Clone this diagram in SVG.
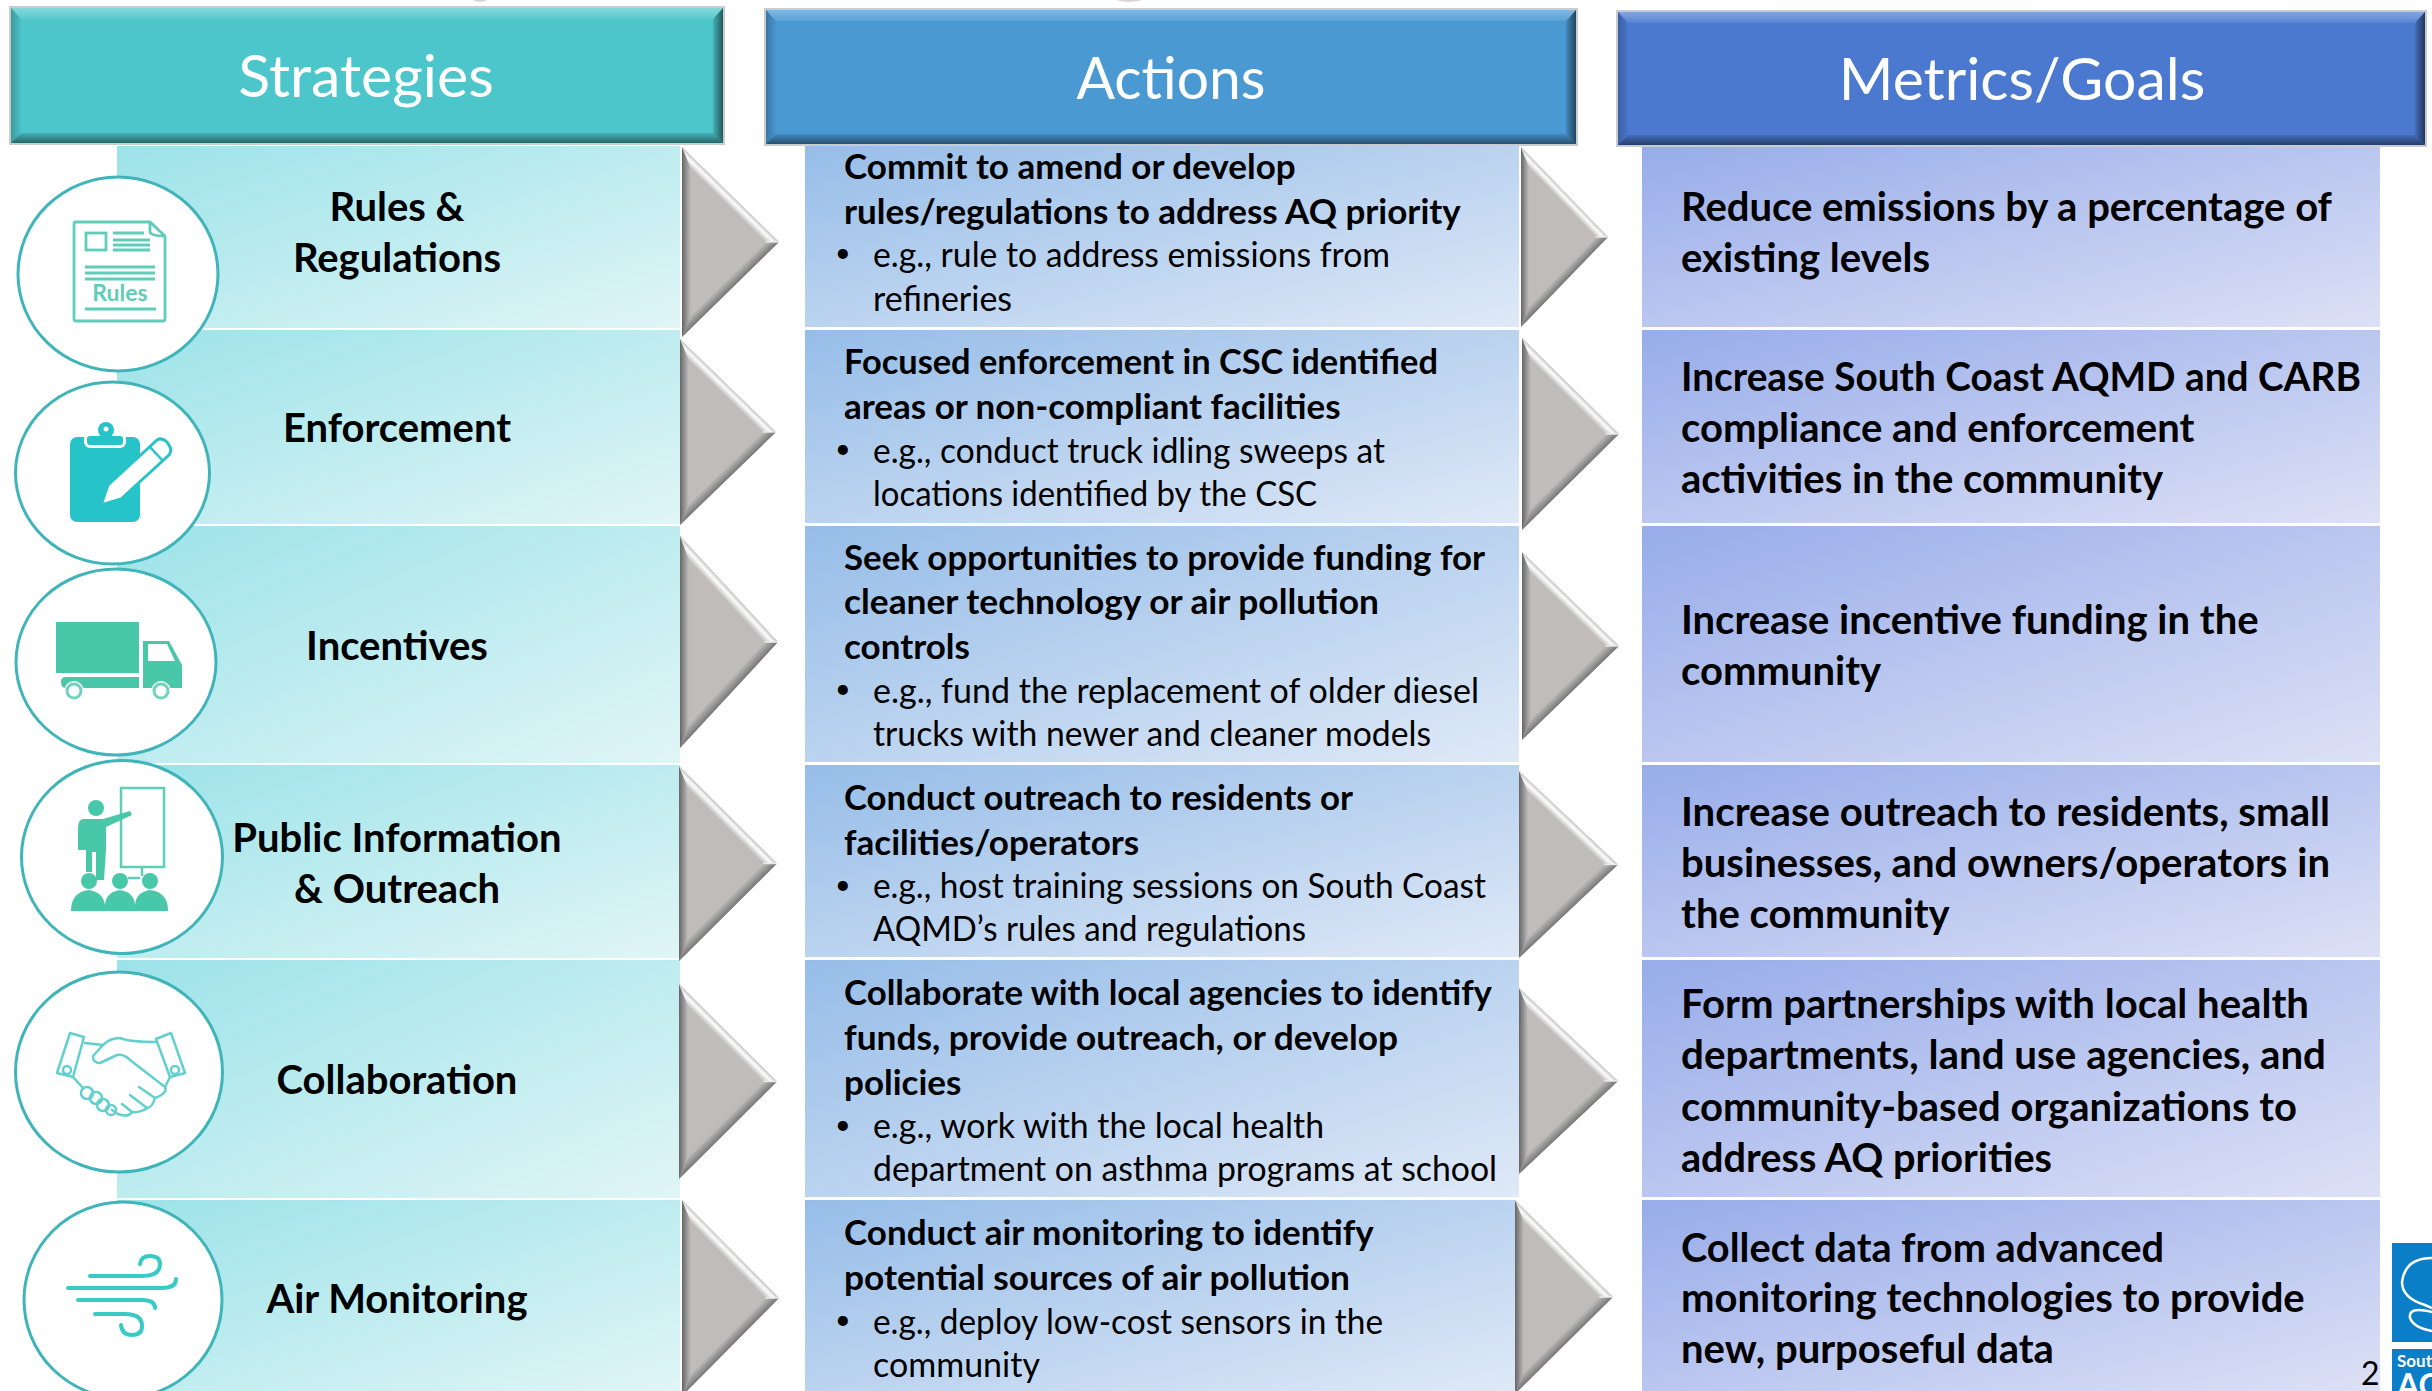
<svg xmlns="http://www.w3.org/2000/svg" width="2432" height="1391" viewBox="0 0 2432 1391">
<defs>
<linearGradient id="gs" x1="0" y1="0" x2="1" y2="1"><stop offset="0" stop-color="#9ce3e9"/><stop offset="1" stop-color="#e0f5f6"/></linearGradient>
<linearGradient id="ga" x1="0" y1="0" x2="1" y2="1"><stop offset="0" stop-color="#96bde8"/><stop offset="1" stop-color="#dfe9f7"/></linearGradient>
<linearGradient id="gm" x1="0" y1="0" x2="1" y2="1"><stop offset="0" stop-color="#97ace9"/><stop offset="1" stop-color="#dde1f6"/></linearGradient>
<linearGradient id="al" gradientUnits="userSpaceOnUse" x1="0" y1="100" x2="9" y2="100"><stop offset="0" stop-color="#666"/><stop offset="1" stop-color="#bfbcbb"/></linearGradient>
<linearGradient id="at" gradientUnits="userSpaceOnUse" x1="50" y1="50" x2="43" y2="57"><stop offset="0" stop-color="#c8c8c8"/><stop offset=".4" stop-color="#fdfdfd"/><stop offset="1" stop-color="#bfbcbb"/></linearGradient>
<linearGradient id="ab" gradientUnits="userSpaceOnUse" x1="50" y1="150" x2="43" y2="143"><stop offset="0" stop-color="#777"/><stop offset="1" stop-color="#bfbcbb"/></linearGradient>
<linearGradient id="bt" x1="0" y1="0" x2="0" y2="1"><stop offset="0" stop-color="#fff" stop-opacity=".32"/><stop offset="1" stop-color="#fff" stop-opacity=".08"/></linearGradient>
<linearGradient id="bb" x1="0" y1="0" x2="0" y2="1"><stop offset="0" stop-color="#000" stop-opacity=".1"/><stop offset="1" stop-color="#000" stop-opacity=".48"/></linearGradient>
<linearGradient id="bl" x1="0" y1="0" x2="1" y2="0"><stop offset="0" stop-color="#000" stop-opacity=".22"/><stop offset="1" stop-color="#000" stop-opacity=".02"/></linearGradient>
<linearGradient id="br" x1="0" y1="0" x2="1" y2="0"><stop offset="0" stop-color="#000" stop-opacity=".1"/><stop offset="1" stop-color="#000" stop-opacity=".55"/></linearGradient>
<g id="arrow">
<polygon points="0,0 100,100 0,200" fill="#bfbcbb"/>
<polygon points="0,0 9,22 9,178 0,200" fill="url(#al)"/>
<polygon points="0,0 100,100 86,100 9,22" fill="url(#at)"/>
<polygon points="100,100 0,200 9,178 86,100" fill="url(#ab)"/>
<polyline points="86,100 100,100" fill="none" stroke="#ececec" stroke-width="1.5"/>
</g>
</defs>
<style>
text{font-family:"Lato","Carlito","Liberation Sans",sans-serif}
.h{font-size:59px;fill:#fff;text-anchor:middle}
.s{font-size:40px;font-weight:700;fill:#000;text-anchor:middle}
.b{font-size:35px;font-weight:700;fill:#000}
.n{font-size:34px;fill:#000}
.d{font-size:27px;fill:#000}
.m{font-size:40px;font-weight:700;fill:#000}
.c{fill:#fff;stroke:#3fb5ba;stroke-width:3}
.bs{fill:url(#gs)}.ba{fill:url(#ga)}.bm{fill:url(#gm)}
.i{fill:#26c4c9}.il{fill:none;stroke:#62d0cf;stroke-width:2.5;stroke-linecap:round;stroke-linejoin:round}
.g{fill:#48c7a9}
.frame{fill:#c9cccc}
</style>
<rect width="2432" height="1391" fill="#fff"/>
<ellipse cx="480" cy="-3" rx="9" ry="5" fill="#d5d5d5"/>
<ellipse cx="1129" cy="-3" rx="16" ry="5" fill="#d5d5d5"/>

<g id="header-strategies">
<rect class="frame" x="9" y="6" width="716" height="139"/>
<rect x="11" y="8" width="712" height="135" fill="#4cc5cb"/>
<polygon points="11,8 723,8 713,19 21,19" fill="url(#bt)"/>
<polygon points="11,143 723,143 713,133 21,133" fill="url(#bb)"/>
<polygon points="11,8 21,19 21,133 11,143" fill="url(#bl)"/>
<polygon points="723,8 713,19 713,133 723,143" fill="url(#br)"/>
<text class="h" x="366" y="97">Strategies</text>
</g>
<g id="header-actions">
<rect class="frame" x="764" y="8" width="814" height="138"/>
<rect x="766" y="10" width="810" height="134" fill="#4b99d2"/>
<polygon points="766,10 1576,10 1566,21 776,21" fill="url(#bt)"/>
<polygon points="766,144 1576,144 1566,134 776,134" fill="url(#bb)"/>
<polygon points="766,10 776,21 776,134 766,144" fill="url(#bl)"/>
<polygon points="1576,10 1566,21 1566,134 1576,144" fill="url(#br)"/>
<text class="h" x="1171" y="99" textLength="189" lengthAdjust="spacingAndGlyphs">Actions</text>
</g>
<g id="header-metrics">
<rect class="frame" x="1616" y="10" width="811" height="137"/>
<rect x="1618" y="12" width="807" height="133" fill="#4b79cf"/>
<polygon points="1618,12 2425,12 2415,23 1628,23" fill="url(#bt)"/>
<polygon points="1618,145 2425,145 2415,135 1628,135" fill="url(#bb)"/>
<polygon points="1618,12 1628,23 1628,135 1618,145" fill="url(#bl)"/>
<polygon points="2425,12 2415,23 2415,135 2425,145" fill="url(#br)"/>
<text class="h" x="2022" y="100">Metrics/Goals</text>
</g>

<g id="strategy-monitoring">
<rect class="bs" x="117" y="1200" width="563" height="191"/>
<ellipse class="c" cx="123" cy="1300" rx="99" ry="98"/>
<g fill="none" stroke="#38cbc6" stroke-width="4" stroke-linecap="round">
<path d="M90 1276H142Q160 1276 160 1264Q160 1256 150 1256Q141 1256 140 1264"/>
<path d="M68 1288H162Q176 1288 176 1279"/>
<path d="M78 1300H142Q155 1300 155 1308"/>
<path d="M95 1314H125Q142 1314 142 1326Q142 1335 132 1335Q122 1335 121 1325"/>
</g>
<text class="s" x="397" y="1313">Air Monitoring</text>
</g>
<g id="strategy-collaboration">
<rect class="bs" x="117" y="960" width="563" height="238"/>
<ellipse class="c" cx="119" cy="1072" rx="103.5" ry="100"/>
<g class="il">
<path d="M70 1033L84 1037L73 1077L57 1073Z"/><circle cx="67" cy="1070" r="4"/>
<path d="M156 1039L171 1033L185 1073L170 1077Z"/><circle cx="175" cy="1070" r="4"/>
<path d="M85 1043L103 1045Q110 1038 120 1038Q130 1042 155 1042"/>
<path d="M103 1045L93 1056Q93 1063 100 1063L117 1055Q124 1054 130 1060L165 1087Q168 1093 155 1098Q152 1108 147 1108Q140 1113 132 1112Q128 1118 118 1114L112 1110"/>
<path d="M170 1077L165 1087M73 1077L83 1088"/>
<path d="M139 1087L155 1098M130 1095L147 1108M122 1104L132 1112"/>
<circle cx="87" cy="1093" r="6"/><circle cx="96" cy="1098" r="6"/><circle cx="103" cy="1105" r="6"/><circle cx="111" cy="1110" r="5"/>
</g>
<text class="s" x="397" y="1094">Collaboration</text>
</g>
<g id="strategy-incentives">
<rect class="bs" x="117" y="526" width="563" height="237"/>
<ellipse class="c" cx="116" cy="662" rx="100" ry="93"/>
<rect class="g" x="56" y="622" width="83" height="51"/>
<path class="g" d="M66 677H139V688H66Q61 688 61 682Q61 677 66 677Z"/>
<path class="g" d="M143 641H169L182 665V688H143Z"/>
<path fill="#fff" d="M148 644H167L175 661H148Z"/>
<circle cx="74" cy="691" r="10" fill="#fff"/><circle cx="161" cy="691" r="10" fill="#fff"/>
<circle cx="74" cy="691" r="7" fill="#fff" stroke="#6fd3bd" stroke-width="3"/>
<circle cx="161" cy="691" r="7" fill="#fff" stroke="#6fd3bd" stroke-width="3"/>
<text class="s" x="397" y="660">Incentives</text>
</g>
<g id="strategy-outreach">
<rect class="bs" x="117" y="765" width="563" height="193"/>
<ellipse class="c" cx="122" cy="857" rx="100.5" ry="96.5"/>
<rect x="121" y="788" width="43" height="79" fill="none" stroke="#5fcdb8" stroke-width="2.5"/>
<path d="M142 867V876M128 878H140" stroke="#5fcdb8" stroke-width="2.5" fill="none"/>
<circle class="g" cx="96" cy="808" r="8"/>
<path class="g" d="M84 819H103L130 811L132 815L106 827V850L104 880H96V852H92V872H86V850H78V828Q78 819 84 819Z"/>
<g class="g"><circle cx="89" cy="881" r="8"/><circle cx="120" cy="881" r="8"/><circle cx="150" cy="881" r="8"/>
<path d="M71 911Q71 892 89 890Q103 892 105 905Q106 892 120 890Q134 892 135 905Q136 892 150 890Q168 892 168 911Z"/></g>
<text class="s" x="397" y="852">Public Information</text>
<text class="s" x="397" y="903">&amp; Outreach</text>
</g>
<g id="strategy-enforcement">
<rect class="bs" x="117" y="330" width="563" height="194"/>
<ellipse class="c" cx="112.5" cy="473" rx="97" ry="91"/>
<rect class="i" x="70" y="437" width="70" height="85" rx="7"/>
<rect x="84" y="433" width="42" height="15" rx="6" fill="#fff"/>
<rect class="i" x="87" y="436" width="36" height="9" rx="3"/>
<circle class="i" cx="106" cy="430" r="8"/><circle cx="106" cy="429" r="2.5" fill="#fff"/>
<path fill="#fff" stroke="#26c4c9" stroke-width="3" stroke-linejoin="round" d="M101 505L108 485L157 440Q162 437 167 442L170 447Q172 451 169 455L121 499Z"/>
<path fill="none" stroke="#26c4c9" stroke-width="2.5" d="M150 447L163 461"/>
<text class="s" x="397" y="442">Enforcement</text>
</g>
<g id="strategy-rules">
<rect class="bs" x="117" y="146" width="563" height="182"/>
<ellipse class="c" cx="118" cy="274" rx="100" ry="97"/>
<g fill="none" stroke="#5fcdb8" stroke-width="2.8">
<path d="M76 222H150L165 236V319Q165 321 163 321H76Q74 321 74 319V224Q74 222 76 222Z"/><path d="M150 222V232Q151 236 165 236"/><rect x="86" y="233" width="20" height="17"/>
<path d="M113 233H144M113 240H150M113 245H150M113 250H150M85 267H155M85 273H155M85 279H155M85 309H156"/>
</g>
<text x="120" y="301" font-size="23" font-weight="700" fill="#5fcdb8" text-anchor="middle">Rules</text>
<text class="s" x="397" y="221">Rules &amp;</text>
<text class="s" x="397" y="272">Regulations</text>
</g>

<g id="action-1">
<rect class="ba" x="805" y="146" width="714" height="181"/>
<text class="b" x="844" y="179">Commit to amend or develop</text>
<text class="b" x="844" y="224">rules/regulations to address AQ priority</text>
<text class="d" x="835" y="262">•</text><text class="n" x="873" y="267" textLength="517" lengthAdjust="spacingAndGlyphs">e.g., rule to address emissions from</text>
<text class="n" x="873" y="311">refineries</text>
</g>
<g id="action-2">
<rect class="ba" x="805" y="330" width="714" height="193"/>
<text class="b" x="844" y="374" textLength="594" lengthAdjust="spacingAndGlyphs">Focused enforcement in CSC identified</text>
<text class="b" x="844" y="419">areas or non-compliant facilities</text>
<text class="d" x="835" y="458">•</text><text class="n" x="873" y="463" textLength="512" lengthAdjust="spacingAndGlyphs">e.g., conduct truck idling sweeps at</text>
<text class="n" x="873" y="506" textLength="444" lengthAdjust="spacingAndGlyphs">locations identified by the CSC</text>
</g>
<g id="action-3">
<rect class="ba" x="805" y="526" width="714" height="236"/>
<text class="b" x="844" y="570" textLength="641" lengthAdjust="spacingAndGlyphs">Seek opportunities to provide funding for</text>
<text class="b" x="844" y="614" textLength="535" lengthAdjust="spacingAndGlyphs">cleaner technology or air pollution</text>
<text class="b" x="844" y="659">controls</text>
<text class="d" x="835" y="698">•</text><text class="n" x="873" y="703">e.g., fund the replacement of older diesel</text>
<text class="n" x="873" y="746" textLength="558" lengthAdjust="spacingAndGlyphs">trucks with newer and cleaner models</text>
</g>
<g id="action-4">
<rect class="ba" x="805" y="765" width="714" height="192"/>
<text class="b" x="844" y="810" textLength="509" lengthAdjust="spacingAndGlyphs">Conduct outreach to residents or</text>
<text class="b" x="844" y="855">facilities/operators</text>
<text class="d" x="835" y="894">•</text><text class="n" x="873" y="898" textLength="613" lengthAdjust="spacingAndGlyphs">e.g., host training sessions on South Coast</text>
<text class="n" x="873" y="941" textLength="433" lengthAdjust="spacingAndGlyphs">AQMD’s rules and regulations</text>
</g>
<g id="action-5">
<rect class="ba" x="805" y="960" width="714" height="237"/>
<text class="b" x="844" y="1005" textLength="648" lengthAdjust="spacingAndGlyphs">Collaborate with local agencies to identify</text>
<text class="b" x="844" y="1050" textLength="554" lengthAdjust="spacingAndGlyphs">funds, provide outreach, or develop</text>
<text class="b" x="844" y="1095">policies</text>
<text class="d" x="835" y="1134">•</text><text class="n" x="873" y="1138" textLength="451" lengthAdjust="spacingAndGlyphs">e.g., work with the local health</text>
<text class="n" x="873" y="1181" textLength="624" lengthAdjust="spacingAndGlyphs">department on asthma programs at school</text>
</g>
<g id="action-6">
<rect class="ba" x="805" y="1200" width="710" height="191"/>
<text class="b" x="844" y="1245">Conduct air monitoring to identify</text>
<text class="b" x="844" y="1290" textLength="506" lengthAdjust="spacingAndGlyphs">potential sources of air pollution</text>
<text class="d" x="835" y="1329">•</text><text class="n" x="873" y="1334" textLength="510" lengthAdjust="spacingAndGlyphs">e.g., deploy low-cost sensors in the</text>
<text class="n" x="873" y="1377">community</text>
</g>

<g id="metric-1">
<rect class="bm" x="1642" y="147" width="738" height="180"/>
<text class="m" x="1681" y="221">Reduce emissions by a percentage of</text>
<text class="m" x="1681" y="272">existing levels</text>
</g>
<g id="metric-2">
<rect class="bm" x="1642" y="330" width="738" height="193"/>
<text class="m" x="1681" y="391" textLength="680" lengthAdjust="spacingAndGlyphs">Increase South Coast AQMD and CARB</text>
<text class="m" x="1681" y="442">compliance and enforcement</text>
<text class="m" x="1681" y="493">activities in the community</text>
</g>
<g id="metric-3">
<rect class="bm" x="1642" y="526" width="738" height="236"/>
<text class="m" x="1681" y="634">Increase incentive funding in the</text>
<text class="m" x="1681" y="685">community</text>
</g>
<g id="metric-4">
<rect class="bm" x="1642" y="765" width="738" height="192"/>
<text class="m" x="1681" y="826" textLength="649" lengthAdjust="spacingAndGlyphs">Increase outreach to residents, small</text>
<text class="m" x="1681" y="877" textLength="649" lengthAdjust="spacingAndGlyphs">businesses, and owners/operators in</text>
<text class="m" x="1681" y="928">the community</text>
</g>
<g id="metric-5">
<rect class="bm" x="1642" y="960" width="738" height="237"/>
<text class="m" x="1681" y="1018" textLength="628" lengthAdjust="spacingAndGlyphs">Form partnerships with local health</text>
<text class="m" x="1681" y="1069" textLength="645" lengthAdjust="spacingAndGlyphs">departments, land use agencies, and</text>
<text class="m" x="1681" y="1121">community-based organizations to</text>
<text class="m" x="1681" y="1172" textLength="371" lengthAdjust="spacingAndGlyphs">address AQ priorities</text>
</g>
<g id="metric-6">
<rect class="bm" x="1642" y="1200" width="738" height="191"/>
<text class="m" x="1681" y="1262" textLength="483" lengthAdjust="spacingAndGlyphs">Collect data from advanced</text>
<text class="m" x="1681" y="1312">monitoring technologies to provide</text>
<text class="m" x="1681" y="1363">new, purposeful data</text>
</g>

<g id="connectors">
<use href="#arrow" transform="translate(682,147) scale(.97,.95)"/>
<use href="#arrow" transform="translate(680,339) scale(.96,.93)"/>
<use href="#arrow" transform="translate(680,536) scale(.98,1.06)"/>
<use href="#arrow" transform="translate(679,766) scale(.98,.975)"/>
<use href="#arrow" transform="translate(679,984) scale(.98,.975)"/>
<use href="#arrow" transform="translate(682,1200) scale(.97,.98)"/>
<use href="#arrow" transform="translate(1521,147) scale(.87,.9)"/>
<use href="#arrow" transform="translate(1522,338) scale(.97,.96)"/>
<use href="#arrow" transform="translate(1522,552) scale(.97,.94)"/>
<use href="#arrow" transform="translate(1519,771) scale(.99,.935)"/>
<use href="#arrow" transform="translate(1519,988) scale(.99,.93)"/>
<use href="#arrow" transform="translate(1515,1200) scale(.98,.97)"/>
</g>

<g id="footer">
<text x="2361" y="1385" font-size="32" fill="#000">2</text>
<rect x="2392" y="1243" width="40" height="99" fill="#0a7fc8"/>
<path d="M2432 1258Q2405 1258 2402 1282Q2402 1298 2425 1305L2432 1308M2432 1312Q2408 1306 2410 1318Q2414 1328 2432 1331" fill="none" stroke="#fff" stroke-width="2.5"/>
<rect x="2392" y="1349" width="40" height="42" fill="#0a7fc8"/>
<text x="2397" y="1367" font-size="17" font-weight="700" fill="#fff">Sout</text>
<text x="2397" y="1397" font-size="32" font-weight="700" fill="#fff">AC</text>
</g>
</svg>
